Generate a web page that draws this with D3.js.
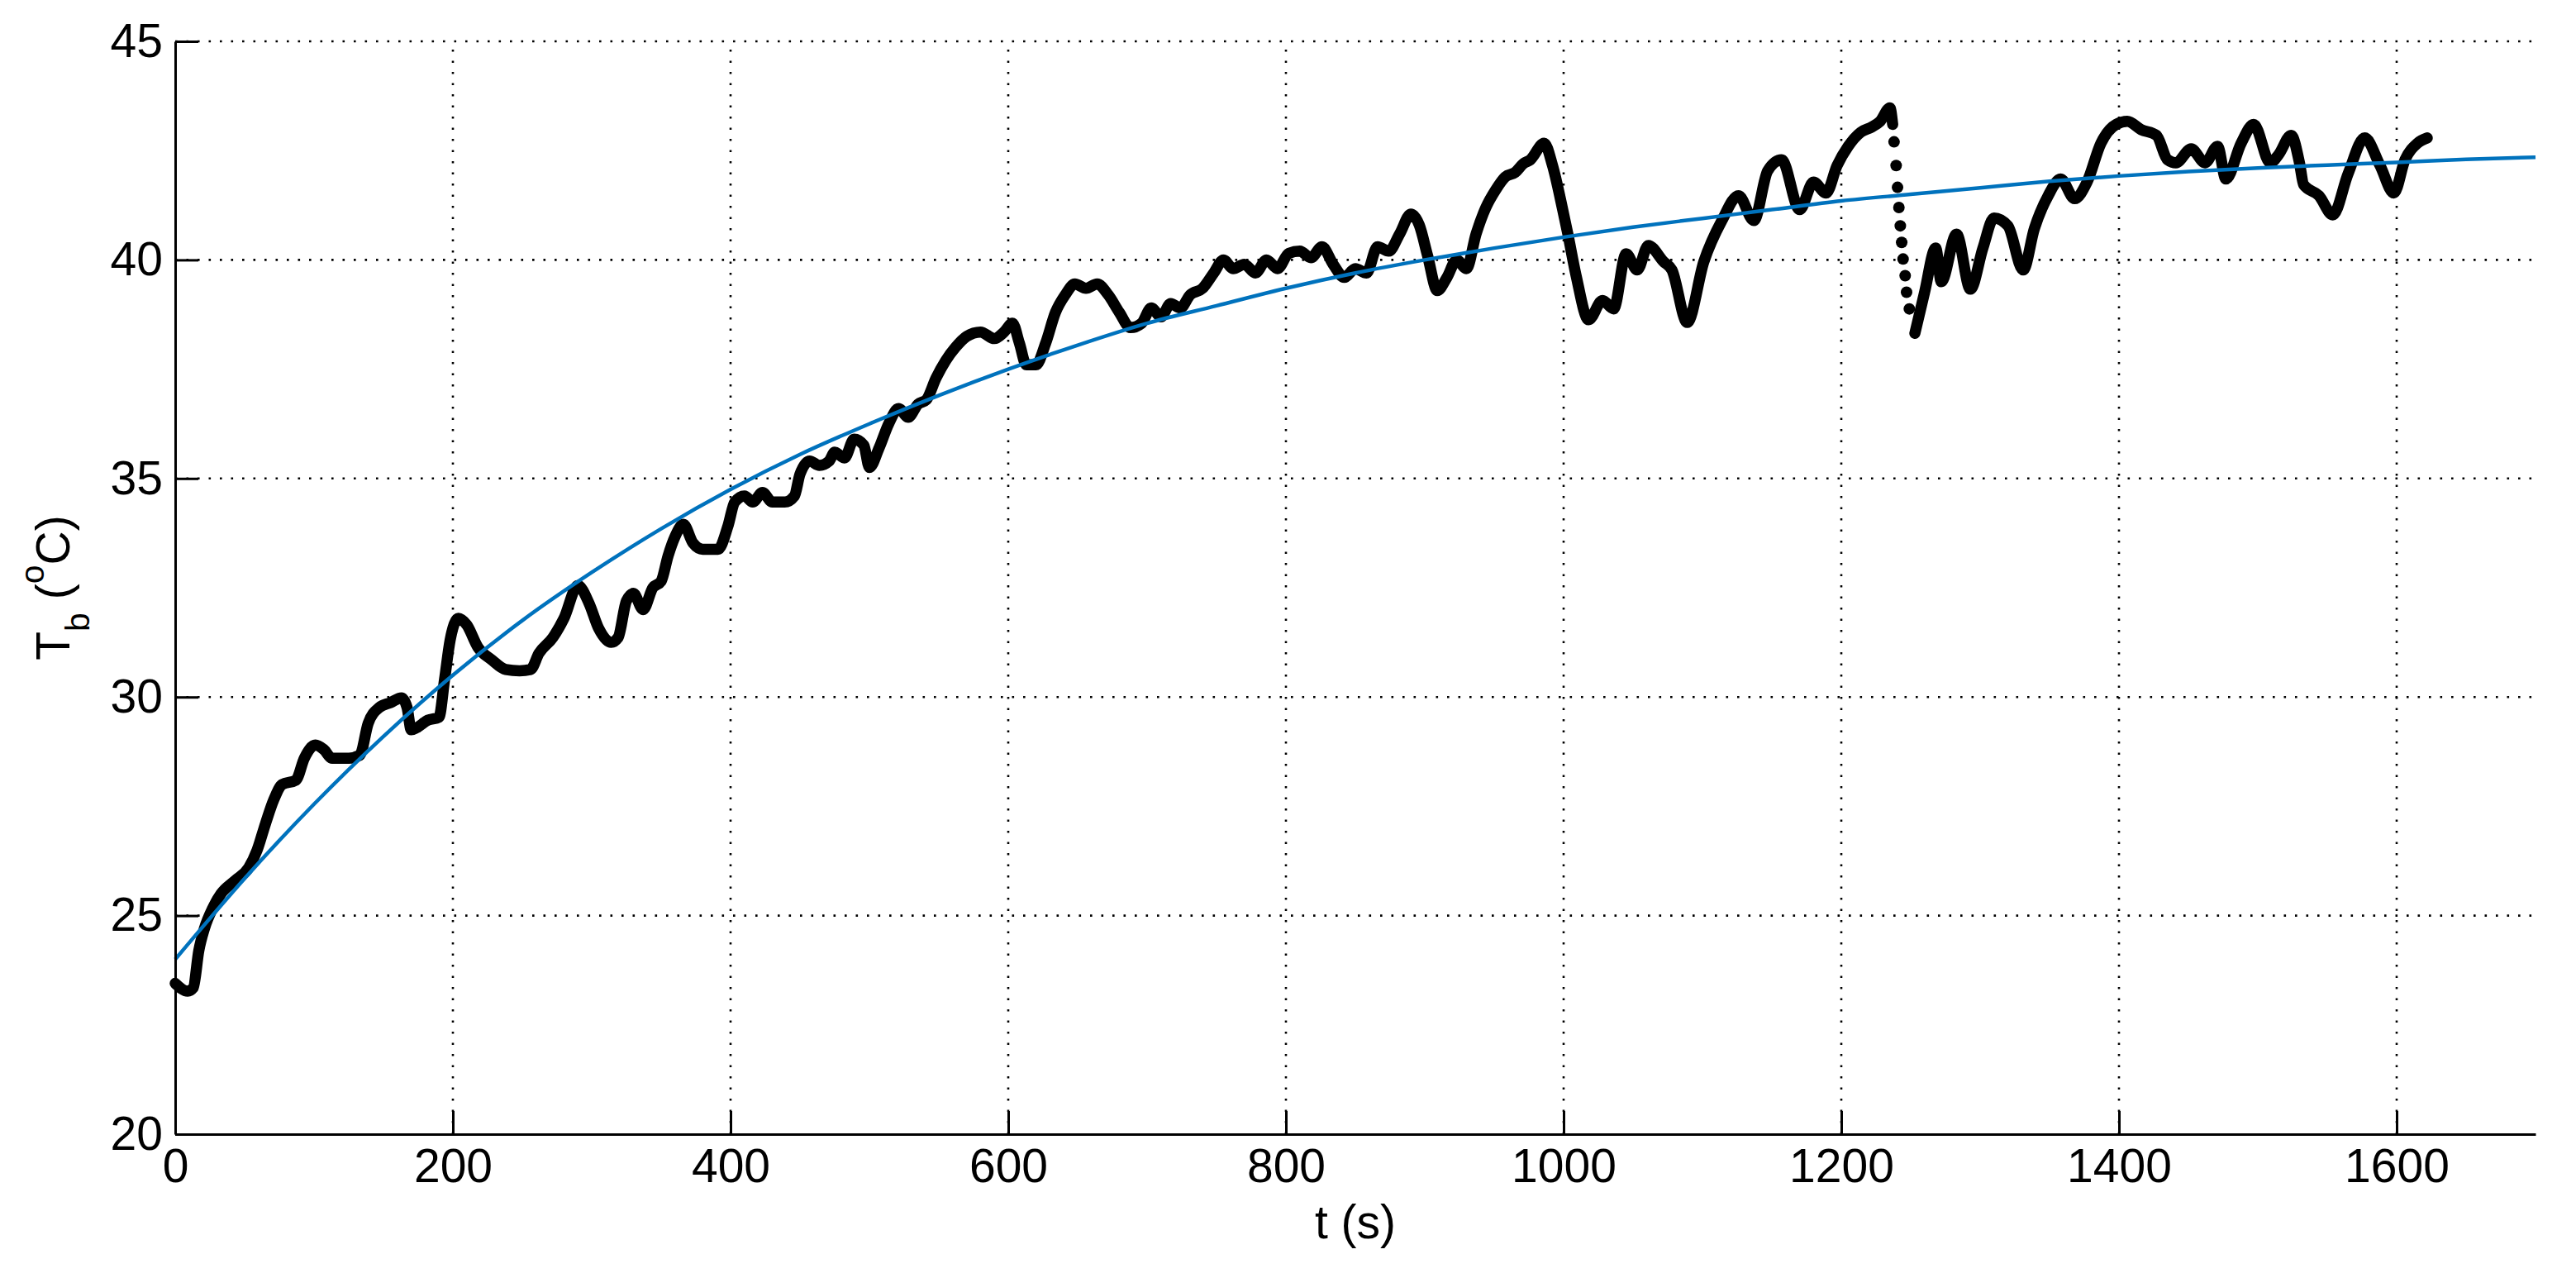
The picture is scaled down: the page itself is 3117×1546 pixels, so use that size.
<!DOCTYPE html>
<html>
<head>
<meta charset="utf-8">
<script src="https://cdn.jsdelivr.net/npm/d3@7"></script>
<style>
  html, body { margin: 0; padding: 0; background: #ffffff; }
  svg { display: block; }
</style>
</head>
<body>
<svg id="chart" width="3117" height="1546"></svg>
<script>
// ---------------- data ----------------
// measured body temperature, continuous parts (s, °C)
const timeS = [0, 9, 13, 17, 21, 27, 33, 43, 53, 59, 65, 71, 77, 87, 93, 101, 107, 113, 125, 133,
  139, 147, 155, 163, 167, 170, 174, 182, 190, 194, 198, 204, 210, 218, 228, 238, 248, 256, 262, 272,
  280, 290, 298, 305, 314, 319, 325, 330, 337, 344, 350, 355, 360, 366, 373, 380, 391, 398, 403, 410,
  416, 423, 430, 439, 446, 450, 457, 464, 471, 475, 482, 489, 496, 500, 507, 514, 521, 528, 535, 541,
  548, 555, 562, 570, 580, 590, 597, 603, 608, 613, 620, 627, 634, 641, 648, 656, 664, 672, 680, 688,
  696, 703, 710, 717, 724, 731, 740, 748, 755, 762, 770, 778, 786, 794, 802, 810, 818, 826, 834, 842,
  850, 858, 866, 874, 882, 890, 896, 902, 909, 916, 923, 930, 937, 944, 951, 958, 965, 971, 976, 986,
  992, 999, 1003, 1009, 1018, 1028, 1036, 1045, 1053, 1061, 1072, 1078, 1089, 1101, 1114, 1126, 1137, 1147, 1157, 1170,
  1180, 1189, 1197, 1205, 1214, 1222, 1228, 1235, 1237,
  1253, 1260, 1268, 1272, 1283, 1293, 1302, 1310, 1320, 1331, 1339, 1349, 1358, 1368, 1377, 1387, 1398, 1406, 1416, 1427,
  1435, 1441, 1452, 1462, 1471, 1477, 1488, 1497, 1509, 1515, 1524, 1530, 1533, 1544, 1554, 1565, 1577, 1588, 1598, 1606,
  1615, 1622];
const tempC = [23.45, 23.27, 23.35, 24.2, 24.7, 25.17, 25.5, 25.8, 26.1, 26.5, 27.1, 27.65, 28.0, 28.1, 28.6, 28.9, 28.8, 28.6, 28.6, 28.67,
  29.4, 29.76, 29.87, 29.98, 29.76, 29.25, 29.3, 29.47, 29.54, 30.4, 31.3, 31.8, 31.65, 31.14, 30.85, 30.63, 30.6, 30.63, 31.0, 31.36,
  31.8, 32.55, 32.15, 31.57, 31.25, 31.36, 32.2, 32.37, 32.0, 32.5, 32.65, 33.23, 33.67, 33.95, 33.52, 33.38, 33.38, 33.9, 34.46, 34.6,
  34.46, 34.68, 34.46, 34.46, 34.6, 35.1, 35.4, 35.3, 35.4, 35.6, 35.47, 35.9, 35.76, 35.25, 35.7, 36.26, 36.6, 36.4, 36.7, 36.8,
  37.3, 37.7, 38.0, 38.25, 38.35, 38.2, 38.35, 38.55, 38.1, 37.6, 37.6, 38.1, 38.8, 39.2, 39.45, 39.35, 39.45, 39.2, 38.8, 38.45,
  38.55, 38.9, 38.7, 39.0, 38.9, 39.2, 39.35, 39.7, 40.0, 39.8, 39.9, 39.7, 40.0, 39.8, 40.15, 40.2, 40.05, 40.3, 39.9, 39.6,
  39.8, 39.7, 40.3, 40.2, 40.6, 41.05, 40.8, 40.1, 39.3, 39.6, 40.0, 39.8, 40.6, 41.2, 41.6, 41.9, 42.0, 42.2, 42.29, 42.67,
  42.16, 41.2, 40.6, 39.64, 38.63, 39.07, 38.88, 40.14, 39.77, 40.33, 39.96, 39.77, 38.57, 39.96, 40.9, 41.47, 40.9, 42.04, 42.29, 41.15,
  41.78, 41.53, 42.16, 42.6, 42.92, 43.04, 43.17, 43.48, 43.1,
  38.32, 39.26, 40.27, 39.5, 40.59, 39.33, 40.27, 40.96, 40.78, 39.77, 40.71, 41.47, 41.85, 41.4, 41.78, 42.67, 43.1, 43.17, 42.98, 42.85,
  42.29, 42.22, 42.54, 42.22, 42.6, 41.85, 42.67, 43.1, 42.22, 42.41, 42.85, 42.22, 41.72, 41.47, 41.03, 41.97, 42.79, 42.16, 41.53, 42.29,
  42.67, 42.79];
// sparse samples on the sudden drop near 1240 s (drawn as separate dots)
const dropTimeS = [1238, 1239.5, 1240.5, 1241.5, 1242.5, 1243.5, 1244.5, 1246, 1247, 1249];
const dropTempC = [42.7, 42.16, 41.66, 41.2, 40.78, 40.4, 40.02, 39.64, 39.26, 38.88];
// fitted curve (s, °C)
const fitTimeS = [0, 50, 100, 150, 200, 250, 300, 350, 400, 450, 500, 550, 600, 650, 700, 750, 800, 850,
  900, 950, 1000, 1050, 1100, 1150, 1200, 1250, 1300, 1350, 1400, 1450, 1500, 1550, 1600, 1650, 1700];
const fitTempC = [24.0, 25.85, 27.55, 29.1, 30.5, 31.75, 32.85, 33.85, 34.75, 35.55, 36.25, 36.9, 37.5, 38.05, 38.55, 38.95, 39.35, 39.7,
  40.0, 40.27, 40.52, 40.75, 40.95, 41.15, 41.35, 41.5, 41.65, 41.8, 41.92, 42.02, 42.1, 42.17, 42.23, 42.3, 42.35];
// axes
const xDomain = [0, 1700];
const yDomain = [20, 45];
const xTickValues = [0, 200, 400, 600, 800, 1000, 1200, 1400, 1600];
const yTickValues = [20, 25, 30, 35, 40, 45];
const xLabelText = "t (s)";

// ---------------- drawing ----------------
const W = 3117, H = 1546;
const plot = { left: 212, right: 3068, top: 50, bottom: 1372 };
const FONT = "'Liberation Sans', Arial, Helvetica, sans-serif";
const FS = 57;

const x = d3.scaleLinear().domain(xDomain).range([plot.left, plot.right]);
const y = d3.scaleLinear().domain(yDomain).range([plot.bottom, plot.top]);

const svg = d3.select("#chart");
svg.append("rect").attr("width", W).attr("height", H).attr("fill", "#ffffff");

// dotted grid
const grid = svg.append("g").attr("class", "grid");
grid.selectAll("line.gx").data(xTickValues.filter(v => v > xDomain[0])).join("line")
  .attr("class", "gx")
  .attr("x1", d => x(d)).attr("x2", d => x(d))
  .attr("y1", plot.bottom).attr("y2", plot.top)
  .attr("stroke", "#000").attr("stroke-width", 2.6).attr("stroke-dasharray", "2.6 10.9");
grid.selectAll("line.gy").data(yTickValues.filter(v => v > yDomain[0])).join("line")
  .attr("class", "gy")
  .attr("x1", plot.left).attr("x2", plot.right)
  .attr("y1", d => y(d)).attr("y2", d => y(d))
  .attr("stroke", "#000").attr("stroke-width", 2.6).attr("stroke-dasharray", "2.6 10.9");

// measured data: line split at the drop
const dropStart = dropTimeS[0];
const seg1 = timeS.map((t, i) => [t, tempC[i]]).filter(d => d[0] < dropStart);
const seg2 = timeS.map((t, i) => [t, tempC[i]]).filter(d => d[0] > dropTimeS[dropTimeS.length - 1]);
const lineGen = d3.line().x(d => x(d[0])).y(d => y(d[1])).curve(d3.curveMonotoneX);

const data = svg.append("g").attr("class", "measured");
[seg1, seg2].forEach(seg => {
  data.append("path").datum(seg)
    .attr("d", lineGen)
    .attr("fill", "none").attr("stroke", "#000")
    .attr("stroke-width", 13.5).attr("stroke-linejoin", "round").attr("stroke-linecap", "round");
});
data.selectAll("circle").data(dropTimeS.map((t, i) => [t, dropTempC[i]])).join("circle")
  .attr("cx", d => x(d[0])).attr("cy", d => y(d[1])).attr("r", 7).attr("fill", "#000");

// fitted curve
svg.append("path").datum(fitTimeS.map((t, i) => [t, fitTempC[i]]))
  .attr("d", lineGen)
  .attr("fill", "none").attr("stroke", "#0072BD").attr("stroke-width", 4.5)
  .attr("stroke-linejoin", "round");

// axes
const xAxis = d3.axisBottom(x).tickValues(xTickValues).tickFormat(d3.format("d"))
  .tickSizeInner(-28).tickSizeOuter(0).tickPadding(18);
const yAxis = d3.axisLeft(y).tickValues(yTickValues).tickFormat(d3.format("d"))
  .tickSizeInner(-28).tickSizeOuter(0).tickPadding(15);

const gx = svg.append("g").attr("transform", `translate(0,${plot.bottom})`).call(xAxis);
const gy = svg.append("g").attr("transform", `translate(${plot.left},0)`).call(yAxis);
[gx, gy].forEach(g => {
  g.attr("font-family", FONT).attr("font-size", FS);
  g.select(".domain").attr("stroke", "#000").attr("stroke-width", 3);
  g.selectAll(".tick line").attr("stroke", "#000").attr("stroke-width", 3);
  g.selectAll(".tick text").attr("fill", "#000");
});

// axis labels
svg.append("text")
  .attr("x", (plot.left + plot.right) / 2).attr("y", 1498)
  .attr("text-anchor", "middle")
  .attr("font-family", FONT).attr("font-size", FS).attr("fill", "#000")
  .text(xLabelText);

const yl = svg.append("text")
  .attr("transform", `translate(84,${(plot.top + plot.bottom) / 2}) rotate(-90)`)
  .attr("text-anchor", "middle")
  .attr("font-family", FONT).attr("font-size", FS).attr("fill", "#000");
yl.append("tspan").text("T");
yl.append("tspan").attr("dy", 24).attr("font-size", 41).text("b");
yl.append("tspan").attr("dy", -24).text(" (");
yl.append("tspan").attr("dy", -31).attr("font-size", 41).text("o");
yl.append("tspan").attr("dy", 31).text("C)");
</script>
</body>
</html>
